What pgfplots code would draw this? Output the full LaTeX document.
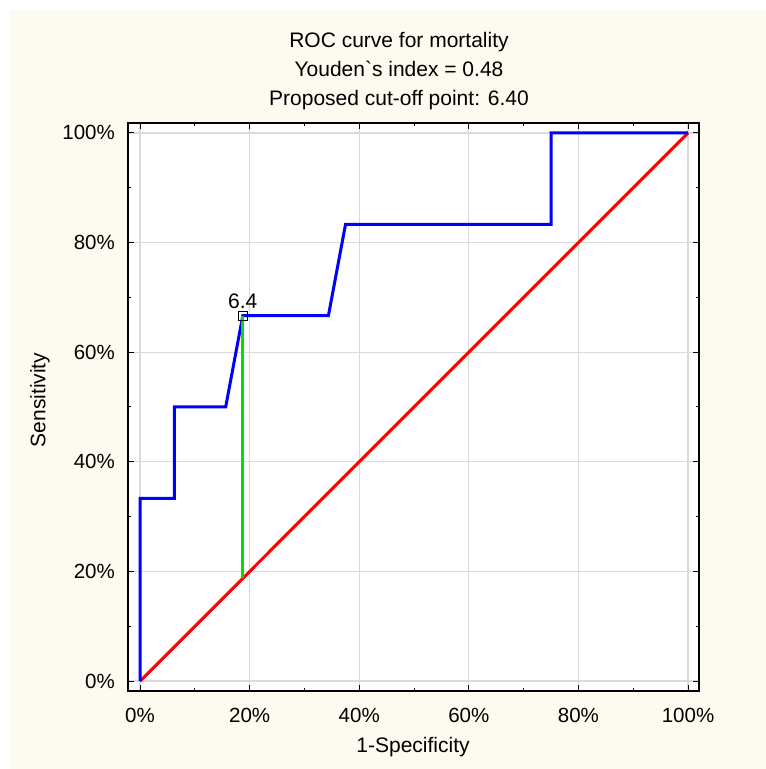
\documentclass[border=0pt]{standalone}
\usepackage{fontspec}
\setmainfont{Liberation Sans}[Ligatures=TeXOff]
\usepackage{pgfplots}
\pgfplotsset{compat=1.18}
\definecolor{cream}{RGB}{253,250,240}
\definecolor{gridgray}{RGB}{218,218,218}
\definecolor{rocblue}{RGB}{0,0,255}
\definecolor{rocred}{RGB}{255,0,0}
\definecolor{rocgreen}{RGB}{0,225,0}

\begin{document}
\fontsize{21}{29}\selectfont
\begin{tikzpicture}
\path[use as bounding box] (0,0) rectangle (766pt,769pt);
\fill[cream] (10pt,0) rectangle (766pt,759pt);
\begin{axis}[
  scale only axis, width=571pt, height=568pt,
  at={(128pt,78pt)}, anchor=south west,
  xmin=-2.2, xmax=102, ymin=-1.8, ymax=101.8,
  axis background/.style={fill=white},
  axis line style={line width=1.5pt},
  xtick={0,20,...,100}, ytick={0,20,...,100},
  xticklabels={0\%,20\%,40\%,60\%,80\%,100\%},
  yticklabels={0\%,20\%,40\%,60\%,80\%,100\%},
  minor xtick={10,30,...,90}, minor ytick={10,30,...,90},
  tick align=inside, tick pos=both,
  major tick length=6pt, minor tick length=3pt,
  every tick/.style={black,line width=1pt},
  grid=major, major grid style={gridgray,line width=1.3pt},
  tick label style={font=\fontsize{20.5}{24}\selectfont},
  xticklabel style={yshift=-10pt},
  yticklabel style={xshift=-6pt},
  clip=false,
]
\addplot[rocred,line width=3pt] coordinates {(0,0)(100,100)};
\addplot[rocblue,line width=3pt] coordinates {
  (0,0)(0,33.33)(6.25,33.33)(6.25,50)(15.625,50)(18.75,66.67)
  (34.375,66.67)(37.5,83.33)(75,83.33)(75,100)(100,100)};
\addplot[rocgreen,line width=3pt] coordinates {(18.75,18.75)(18.75,66.67)};
\addplot[black,line width=0.8pt,only marks,mark=square,mark size=4.5pt] coordinates {(18.75,66.67)};
\node[anchor=base,yshift=7pt] at (axis cs:18.75,66.67) {6.4};
\end{axis}
\node[align=center] at (399pt,698pt) {ROC curve for mortality\\Youden`s index = 0.48\\Proposed cut-off point: 6.40};
\node at (413pt,22pt) {1-Specificity};
\node[rotate=90] at (40pt,369pt) {Sensitivity};
\end{tikzpicture}
\end{document}
